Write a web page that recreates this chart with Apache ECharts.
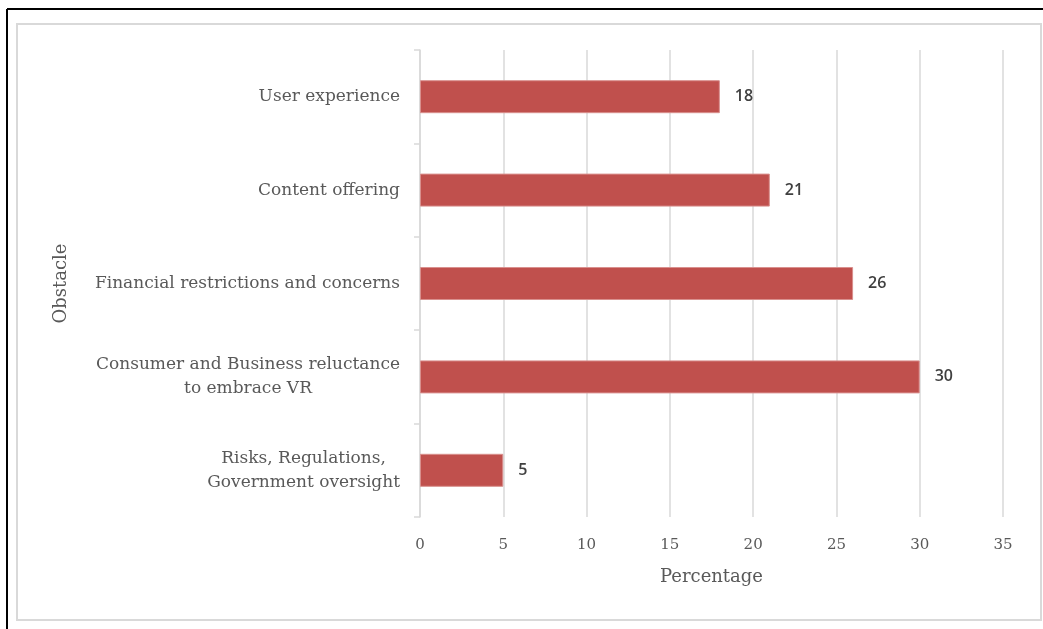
<!DOCTYPE html>
<html>
<head>
<meta charset="utf-8">
<script src="https://cdn.jsdelivr.net/npm/echarts@6/dist/echarts.min.js"></script>
<style>
  html, body { margin: 0; padding: 0; background: #fff; }
  #echart { width: 1043px; height: 629px; }
</style>
</head>
<body>
<div id="echart"></div>
<script>
var categories = [
  'User experience',
  'Content offering',
  'Financial restrictions and concerns',
  'Consumer and Business reluctance\nto embrace VR',
  'Risks, Regulations,\nGovernment oversight'
];
var values = [18, 21, 26, 30, 5];
var xTicks = [0, 5, 10, 15, 20, 25, 30, 35];

var myChart = echarts.init(document.getElementById('echart'));
var serif = '"DejaVu Serif", serif';

var option = {
  animation: false,
  graphic: [
    // frame around the picture
    { type: 'rect', shape: { x: 17, y: 24, width: 1024, height: 596 },
      style: { fill: null, stroke: '#d9d9d9', lineWidth: 2 } },
    { type: 'line', shape: { x1: 7, y1: 9, x2: 1043, y2: 9 },
      style: { stroke: '#000', lineWidth: 2 } },
    { type: 'line', shape: { x1: 7, y1: 9, x2: 7, y2: 629 },
      style: { stroke: '#000', lineWidth: 2 } }
  ],
  grid: { left: 420, right: 40, top: 50, bottom: 112 },
  xAxis: {
    type: 'value',
    min: xTicks[0],
    max: xTicks[xTicks.length - 1],
    interval: 5,
    name: 'Percentage',
    nameLocation: 'middle',
    nameGap: 51,
    nameTextStyle: { fontFamily: serif, fontSize: 18, color: '#595959' },
    axisLine: { show: false },
    axisTick: { show: false },
    axisLabel: { margin: 21, fontFamily: serif, fontSize: 15, color: '#595959' },
    splitLine: { lineStyle: { color: '#d9d9d9', width: 1.5 } }
  },
  yAxis: {
    type: 'category',
    inverse: true,
    data: categories,
    name: 'Obstacle',
    nameLocation: 'middle',
    nameRotate: 90,
    nameGap: 350,
    nameTextStyle: { fontFamily: serif, fontSize: 18, color: '#595959' },
    axisLine: { lineStyle: { color: '#d9d9d9', width: 1.5 } },
    axisTick: { show: true, length: 6, lineStyle: { color: '#d9d9d9', width: 1.5 } },
    axisLabel: {
      margin: 20,
      fontFamily: serif,
      fontSize: 17,
      color: '#595959',
      lineHeight: 24,
      formatter: function (v) {
        return v.split('\n').map(function (s) { return '{c|' + s + '}'; }).join('\n');
      },
      rich: {
        c: { align: 'center', fontFamily: serif, fontSize: 17, color: '#595959', lineHeight: 24 }
      }
    }
  },
  series: [{
    name: 'Percentage',
    type: 'bar',
    data: values,
    barWidth: 33,
    itemStyle: { color: '#c0504d', borderColor: '#d9908e', borderWidth: 1 },
    label: {
      show: true,
      position: 'right',
      distance: 15,
      fontFamily: '"Open Sans", sans-serif',
      fontWeight: 600,
      fontSize: 16,
      color: '#404040'
    }
  }]
};

myChart.setOption(option);
</script>
</body>
</html>
